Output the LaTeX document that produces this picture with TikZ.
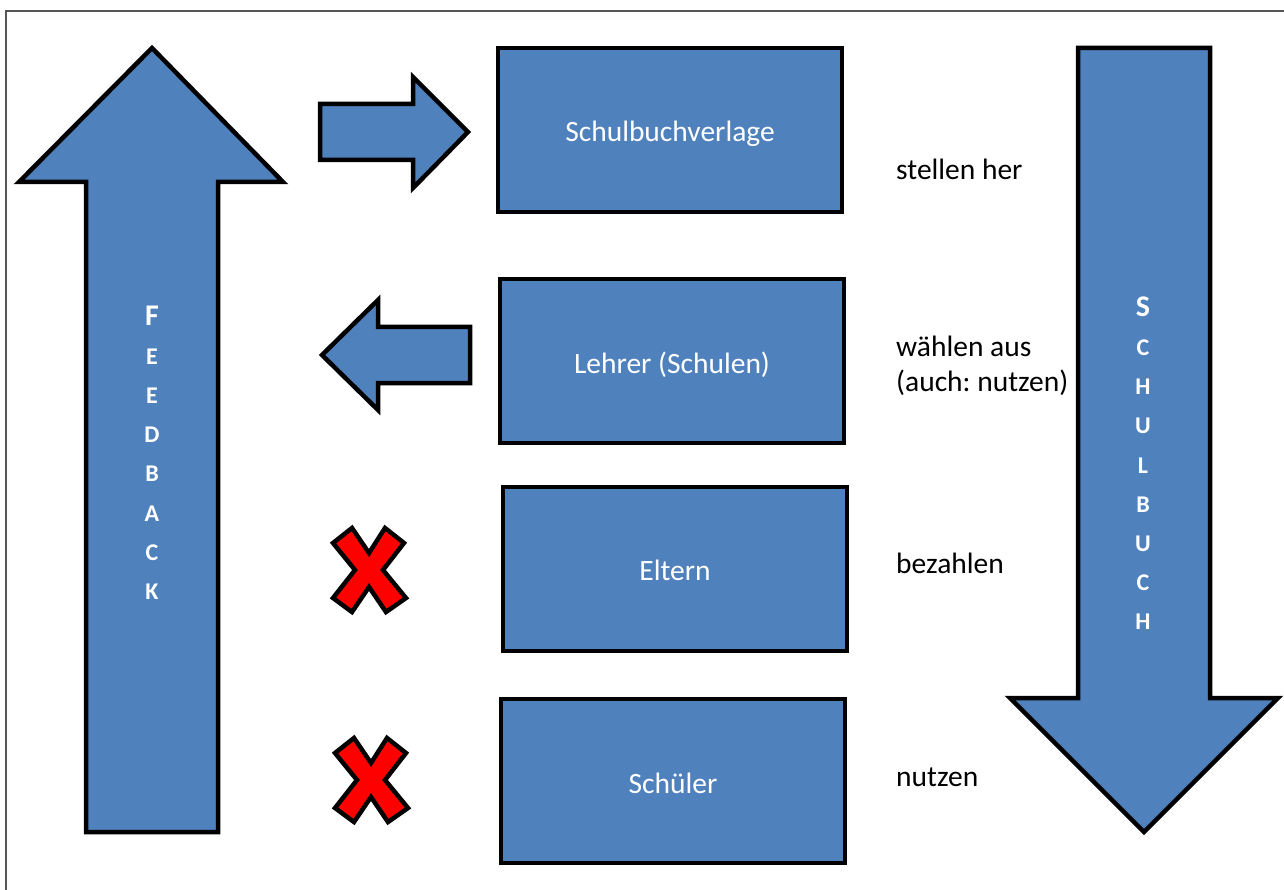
\documentclass[tikz,border=0pt]{standalone}
\usepackage{fontspec}
\setmainfont{Carlito}
\frenchspacing
\definecolor{obblue}{HTML}{4F81BD}
\definecolor{framegray}{HTML}{555555}
\begin{document}
\begin{tikzpicture}[x=1pt,y=-1pt,
  shapeline/.style={draw=black,line width=4.5pt,line join=miter,fill=obblue},
  actor/.style={shapeline,minimum width=344pt,minimum height=164pt,inner sep=0pt},
  boxtext/.style={text=white,font=\fontsize{29.5}{34}\selectfont},
  lbl/.style={anchor=west,inner sep=0pt,align=left,font=\fontsize{29.5}{35}\selectfont},
  vlet/.style={text=white,inner sep=0pt,font=\fontsize{24}{26}\selectfont\bfseries},
  vbig/.style={text=white,inner sep=0pt,font=\fontsize{30}{32}\selectfont\bfseries},
  xmark/.style={draw=black,line width=4.5pt,line join=miter,fill=red}]
\useasboundingbox (0,0) rectangle (1284,890);
% frame
\draw[framegray,line width=1.5pt] (6,900) -- (6,11) -- (1300,11);
% feedback arrow (up)
\draw[shapeline] (152,48) -- (283,182) -- (218,182) -- (218,832) -- (86,832) -- (86,182) -- (19,182) -- cycle;
% schulbuch arrow (down)
\draw[shapeline] (1078,48) -- (1210,48) -- (1210,698) -- (1278,698) -- (1144,832) -- (1010,698) -- (1078,698) -- cycle;
% small right arrow
\draw[shapeline] (320,104) -- (413,104) -- (413,77) -- (468,132) -- (413,188) -- (413,160) -- (320,160) -- cycle;
% small left arrow
\draw[shapeline] (470,327) -- (378,327) -- (378,300) -- (322,355) -- (378,410) -- (378,383) -- (470,383) -- cycle;
% boxes
\node[actor] (verlag) at (670,130) {};
\node[actor] (lehrer) at (672,361) {};
\node[actor] (eltern) at (675,569) {};
\node[actor] (schueler) at (673,781) {};
\node[boxtext] (tverlag) at ([yshift=-4pt]verlag.center) {Schulbuchverlage};
\node[boxtext] (tlehrer) at ([yshift=-4pt]lehrer.center) {Lehrer (Schulen)};
\node[boxtext] (teltern) at ([yshift=-1pt]eltern.center) {Eltern};
\node[boxtext] (tschueler) at ([yshift=-2pt]schueler.center) {Schüler};
% labels
\node[lbl] (l1) at (896,169) {stellen her};
\node[lbl] (l2) at (896,366) {wählen aus\\(auch: nutzen)};
\node[lbl] (l3) at (896,563) {bezahlen};
\node[lbl] (l4) at (896,777) {nutzen};
% crosses
\foreach \cx/\cy [count=\k] in {369/570, 371/780}{
  \draw[xmark,shift={(\cx,\cy)}] (-36,-27) -- (-17,-42) -- (0,-17) -- (16,-42) -- (35,-27) -- (14,0)
     -- (37,28) -- (17,42) -- (0,17) -- (-17,42) -- (-36,28) -- (-14,0) -- cycle;
}
% FEEDBACK letters
\node[vbig] (fb1) at (152,316) {F};
\foreach \c [count=\i from 2] in {E,E,D,B,A,C,K}{
  \node[vlet] (fb\i) at (152,{317+39.3*(\i-1)}) {\c};
}
% SCHULBUCH letters
\node[vbig] (sb1) at (1143,307) {S};
\foreach \c [count=\i from 2] in {C,H,U,L,B,U,C,H}{
  \node[vlet] (sb\i) at (1143,{309+39.1*(\i-1)}) {\c};
}
\end{tikzpicture}
\end{document}
